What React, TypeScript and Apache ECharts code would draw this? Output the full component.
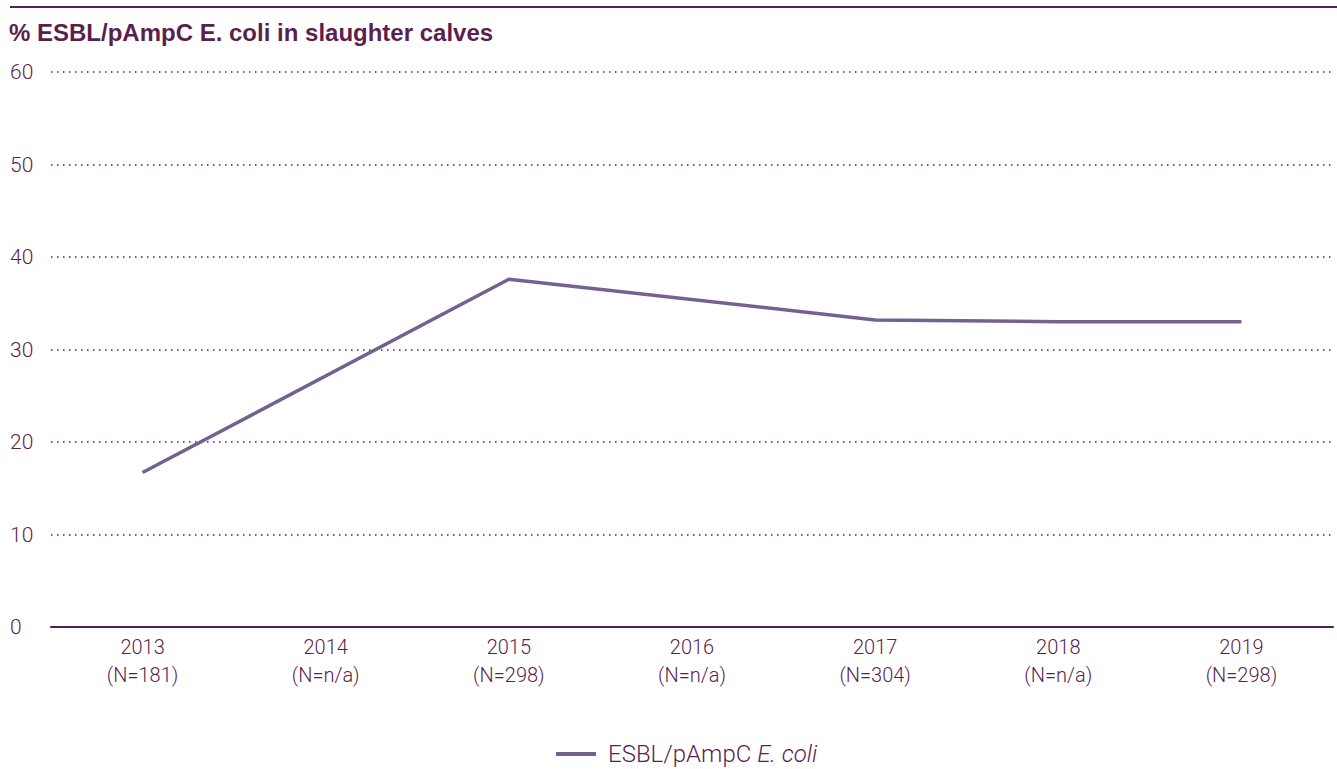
import React, { useEffect, useRef } from "react";
import * as echarts from "echarts";

const years = ["2013", "2014", "2015", "2016", "2017", "2018", "2019"];
const sampleSizes = ["181", "n/a", "298", "n/a", "304", "n/a", "298"];
const esblValues: (number | null)[] = [16.7, null, 37.6, null, 33.2, 33.0, 33.0];
const yTicks = [0, 10, 20, 30, 40, 50, 60];

const DARK = "#5b1f4f";
const LINE = "#75618f";

export default function App() {
  const ref = useRef<HTMLDivElement>(null);
  useEffect(() => {
    const chart = echarts.init(ref.current!, null, { renderer: "svg" });
    chart.setOption({
      animation: false,
      backgroundColor: "#ffffff",
      textStyle: { fontFamily: "Roboto" },
      title: {
        text: "% ESBL/pAmpC E. coli in slaughter calves",
        left: 4,
        top: 15,
        textStyle: { fontFamily: "Liberation Sans", fontWeight: "bold", fontSize: 24, color: DARK },
      },
      graphic: [
        {
          type: "line",
          shape: { x1: 10, y1: 7, x2: 1337, y2: 7 },
          style: { stroke: DARK, lineWidth: 2 },
        },
      ],
      grid: { left: 51, right: 4, top: 72, bottom: 142, containLabel: false },
      legend: {
        left: 551,
        top: 736,
        icon: "rect",
        itemWidth: 40,
        itemHeight: 4,
        data: [{ name: "ESBL/pAmpC E. coli" }],
        formatter: () => "{a|ESBL/pAmpC }{b|E. coli}",
        textStyle: {
          color: DARK,
          fontSize: 24,
          lineHeight: 26,
          padding: [0, 0, 0, 7],
          rich: {
            a: { fontSize: 24, lineHeight: 26, color: DARK, fontFamily: "Roboto", fontWeight: 300 },
            b: { fontSize: 24, lineHeight: 26, color: DARK, fontFamily: "Roboto", fontStyle: "italic", fontWeight: 300 },
          },
        },
      },
      xAxis: {
        type: "category",
        data: years.map((y, i) => y + "\n(N=" + sampleSizes[i] + ")"),
        boundaryGap: true,
        axisLine: { lineStyle: { color: DARK, width: 2 } },
        axisTick: { alignWithLabel: true, inside: true, length: 7, lineStyle: { color: DARK, width: 1.5 } },
        axisLabel: { color: DARK, fontSize: 20, lineHeight: 28, margin: 6, fontWeight: 300 },
      },
      yAxis: {
        type: "value",
        min: yTicks[0],
        max: yTicks[yTicks.length - 1],
        interval: 10,
        axisLine: { show: false },
        axisTick: { show: false },
        axisLabel: { color: DARK, fontSize: 21, align: "left", margin: 41, fontWeight: 300 },
        splitLine: { lineStyle: { color: DARK, type: [1.5, 4.5], width: 1.5 } },
      },
      series: [
        {
          name: "ESBL/pAmpC E. coli",
          type: "line",
          data: esblValues,
          connectNulls: true,
          showSymbol: false,
          symbol: "none",
          lineStyle: { color: LINE, width: 3.5 },
          itemStyle: { color: LINE },
        },
      ],
    });
    return () => chart.dispose();
  }, []);
  return (
    <div
      ref={ref}
      style={{ position: "fixed", left: 0, top: 0, width: 1337, height: 769 }}
    />
  );
}
